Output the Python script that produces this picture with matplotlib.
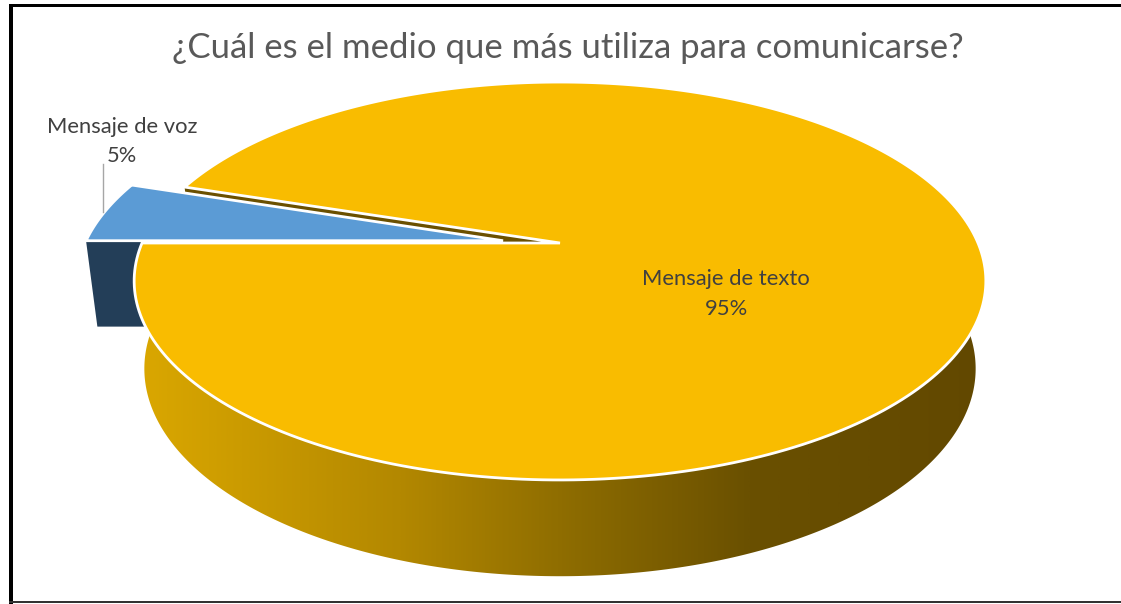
import numpy as np
import matplotlib
matplotlib.use("Agg")
import matplotlib.pyplot as plt
from matplotlib.patches import Polygon, Rectangle
from matplotlib.colors import LinearSegmentedColormap

# survey answers
title = "¿Cuál es el medio que más utiliza para comunicarse?"
categories = ["Mensaje de voz", "Mensaje de texto"]
values = [5, 95]

top_colors = ["#5B9BD5", "#F9BC00"]
face_colors = ["#233E58", "#6B5000"]   # cut faces of each slice
explode = [0.137, 0.0]
explode_dir = 185.0
start_angle = 180.0

# perspective of the 3d disc (pixels)
CX = 560.0
TOP_CY, TOP_P, TOP_R = 243.0, 418.0, 191.7
BOT_CY, BOT_P, BOT_R = 329.0, 408.0, 200.0
Q = -0.191

W, H = 1121, 604
plt.rcParams["font.family"] = ["Lato", "DejaVu Sans"]

fig = plt.figure(figsize=(W / 100, H / 100), dpi=100)
ax = fig.add_axes([0, 0, 1, 1])
ax.set_xlim(0, W)
ax.set_ylim(H, 0)
ax.axis("off")


def project(X, Y, level="top"):
    X = np.asarray(X, dtype=float)
    Y = np.asarray(Y, dtype=float)
    w = 1 + Q * Y
    if level == "top":
        return CX + TOP_P * X / w, TOP_CY + TOP_R * Y / w
    return CX + BOT_P * X / w, BOT_CY + BOT_R * Y / w


def arc(t0, t1, n=300):
    t = np.radians(np.linspace(t0, t1, n))
    return np.cos(t), np.sin(t)


def poly(xs, ys, **kw):
    p = Polygon(np.column_stack([xs, ys]), closed=True, **kw)
    ax.add_patch(p)
    return p


fracs = np.array(values, dtype=float) / sum(values)
bounds = start_angle + np.concatenate([[0], np.cumsum(fracs) * 360])
d = np.radians(explode_dir)
offsets = [(e * np.cos(d), e * np.sin(d)) for e in explode]

# cut face at the start of each slice (drawn first, they sit behind the tops)
for i in [1, 0]:
    a = np.radians(bounds[i])
    ox, oy = offsets[i]
    X = np.array([ox, ox + np.cos(a)])
    Y = np.array([oy, oy + np.sin(a)])
    tx, ty = project(X, Y, "top")
    bx, by = project(X, Y, "bot")
    poly(np.r_[tx, bx[::-1]], np.r_[ty, by[::-1]],
         facecolor=face_colors[i], edgecolor="none", zorder=2 + (1 - i))

# exploded small slice top
ax0, ay0 = arc(bounds[0], bounds[1])
ox, oy = offsets[0]
tx, ty = project(np.r_[ox, ax0 + ox], np.r_[oy, ay0 + oy], "top")
poly(tx, ty, facecolor=top_colors[0], edgecolor="white", lw=2, zorder=4)

# outer wall of the large slice with a horizontal shade
wx, wy = arc(340, bounds[2])
tx, ty = project(wx, wy, "top")
bx, by = project(wx, wy, "bot")
wall = poly(np.r_[tx, bx[::-1]], np.r_[ty, by[::-1]],
            facecolor="none", edgecolor="none", zorder=5)
shade_x = [140, 400, 575, 750, 990]
shade_c = ["#DAA700", "#B38800", "#8C6B00", "#6A5000", "#624800"]
cmap = LinearSegmentedColormap.from_list(
    "wall", list(zip((np.array(shade_x) - 140) / 850, shade_c)))
grad = np.linspace(0, 1, 512)[None, :]
im = ax.imshow(grad, cmap=cmap, extent=(140, 990, 600, 230),
               aspect="auto", zorder=5, interpolation="bilinear")
im.set_clip_path(wall)

# large slice top
ax1, ay1 = arc(bounds[1], bounds[2])
tx, ty = project(np.r_[0, ax1], np.r_[0, ay1], "top")
poly(tx, ty, facecolor=top_colors[1], edgecolor="white", lw=2, zorder=6)

ax.set_xlim(0, W)
ax.set_ylim(H, 0)


def fit_text(x, y, s, width, color, size=14):
    t = ax.text(x, y, s, ha="center", va="baseline", fontsize=size,
                color=color, zorder=10)
    fig.canvas.draw()
    w = t.get_window_extent().width
    t.set_fontsize(size * width / w)
    return t


fit_text(568, 58, title, 790, "#595959", 22)

# data labels
fit_text(122, 133, categories[0], 150, "#404040", 13)
fit_text(122, 162, f"{values[0]}%", 30, "#404040", 13)
ax.plot([103, 103], [164, 212], color="#A6A6A6", lw=1, zorder=9)
fit_text(726, 285, categories[1], 167, "#404040", 13)
fit_text(726, 315, f"{values[1]}%", 43, "#404040", 13)

# chart frame
ax.add_patch(Rectangle((9, 4), 4, H - 4, facecolor="black", zorder=20))
ax.add_patch(Rectangle((9, 4), W - 9, 3, facecolor="black", zorder=20))
ax.add_patch(Rectangle((9, 601), W - 9, 2, facecolor="#333333", zorder=20))

fig.savefig("out.png", dpi=100)
